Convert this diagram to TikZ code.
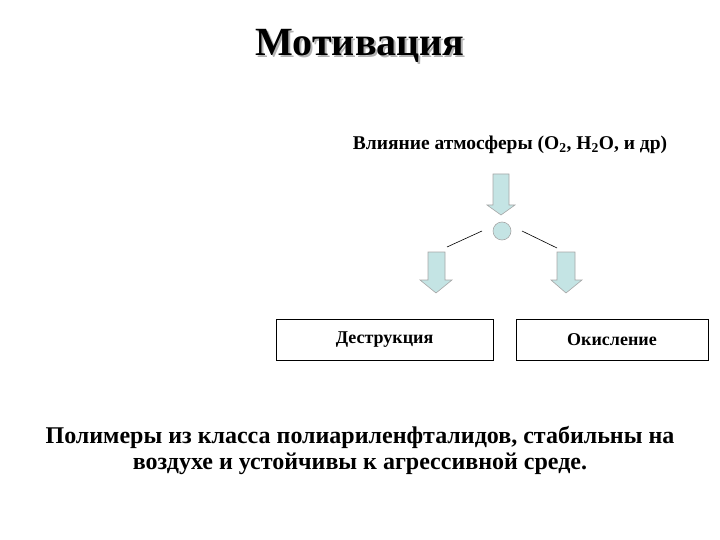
\documentclass[tikz,border=0pt]{standalone}
\usepackage{fontspec}
\setmainfont{Liberation Serif}
\definecolor{acyan}{HTML}{C4E4E4}
\begin{document}
\begin{tikzpicture}[x=1pt,y=-1pt,
  arr/.style={fill=acyan, draw=gray!70, line width=0.6pt},
  box/.style={draw, line width=0.6pt, minimum width=217pt, minimum height=41pt, font=\bfseries\fontsize{18}{20}\selectfont},
  lab/.style={font=\bfseries\fontsize{19.5}{22}\selectfont}]
\useasboundingbox (0,0) rectangle (720,540);
\node[font=\bfseries\fontsize{40}{44}\selectfont] (t) at (360,47) {\rlap{\kern2pt\raisebox{-2pt}{\textcolor{gray!60}{Мотивация}}}Мотивация};
\node[lab] (s) at (510,145) {Влияние атмосферы (O\textsubscript{2}, H\textsubscript{2}O, и др)};
\draw[arr] (493,174) -- (509,174) -- (509,205) -- (515,205) -- (501,215) -- (487,205) -- (493,205) -- cycle;
\draw[arr] (428,252) -- (445,252) -- (445,280) -- (452,280) -- (436,293) -- (420,280) -- (428,280) -- cycle;
\draw[arr] (557,252) -- (575,252) -- (575,280) -- (582,280) -- (566,293) -- (551,280) -- (557,280) -- cycle;
\node[circle, minimum size=18pt, inner sep=0pt, arr] (c) at (502,231) {};
\coordinate (l1) at (482,231); \coordinate (l2) at (447,247);
\coordinate (r1) at (522,231); \coordinate (r2) at (557,248);
\draw[line width=0.6pt] (l1) -- (l2);
\draw[line width=0.6pt] (r1) -- (r2);
\node[box] (d) at (384.5,339.5) {Деструкция};
\node[box, minimum width=192pt] (o) at (612,339.5) {Окисление};
\node[font=\bfseries\fontsize{24}{26}\selectfont, align=center] (b) at (360,450) {Полимеры из класса полиариленфталидов, стабильны на\\воздухе и устойчивы к агрессивной среде.};
\end{tikzpicture}
\end{document}
